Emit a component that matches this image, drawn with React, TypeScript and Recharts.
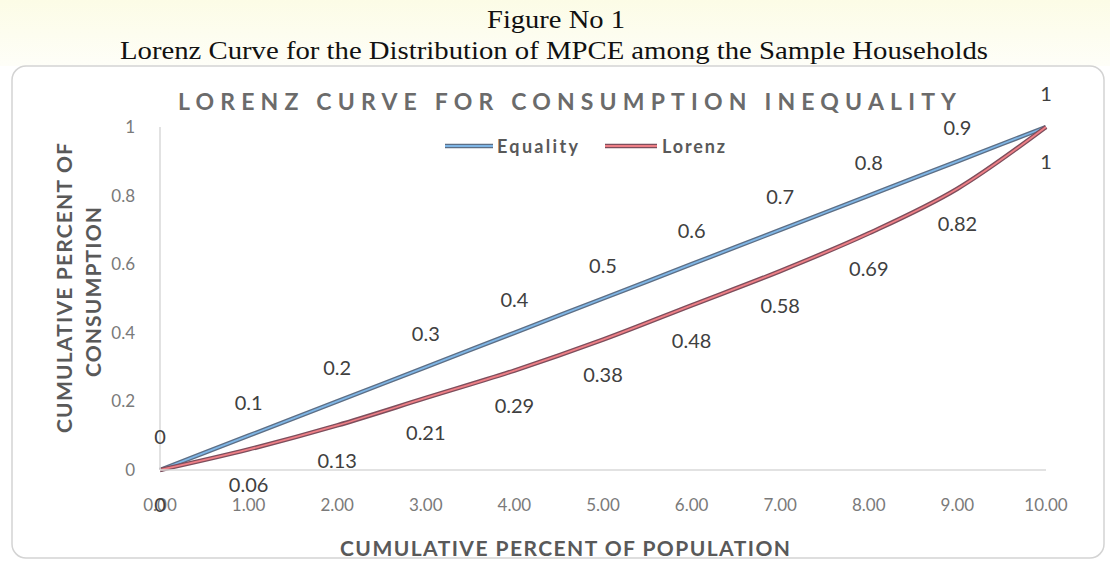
import React from "react";
import { LineChart, Line, XAxis, YAxis, LabelList } from "recharts";

const population = [0, 1, 2, 3, 4, 5, 6, 7, 8, 9, 10];
const equality = [0, 0.1, 0.2, 0.3, 0.4, 0.5, 0.6, 0.7, 0.8, 0.9, 1];
const lorenz = [0, 0.06, 0.13, 0.21, 0.29, 0.38, 0.48, 0.58, 0.69, 0.82, 1];
const xTicks = [0, 1, 2, 3, 4, 5, 6, 7, 8, 9, 10];
const yTicks = [0, 0.2, 0.4, 0.6, 0.8, 1];
const seriesNames = ["Equality", "Lorenz"];

const data = population.map((p, i) => ({ x: p, equality: equality[i], lorenz: lorenz[i] }));

const FONT = "Lato, 'Open Sans', sans-serif";
const SERIF = "'Liberation Serif', 'DejaVu Serif', serif";
const GREY = "#595959";

const EQ_OUT = "#5d6f86";
const EQ_IN = "#7fb6e6";
const LO_OUT = "#7e4e5c";
const LO_IN = "#ef7f86";

export default function App() {
  return (
    <div style={{ position: "absolute", left: 0, top: 0, width: 1110, height: 562, background: "#ffffff", overflow: "hidden" }}>
      <svg width={1110} height={562} style={{ position: "absolute", left: 0, top: 0 }}>
        <defs>
          <linearGradient id="cream" x1="0" y1="0" x2="0" y2="1">
            <stop offset="0" stopColor="#fcfce6" />
            <stop offset="1" stopColor="#fefef8" />
          </linearGradient>
        </defs>
        <rect x={0} y={0} width={1110} height={66} fill="url(#cream)" />
        <rect x={12} y={66} width={1092} height={492} rx={14} fill="#ffffff" stroke="#d3d3d3" strokeWidth={1.5} />
      </svg>
      <div style={{ position: "absolute", left: 0, top: 0 }}>
        <LineChart width={1110} height={562} data={data} margin={{ top: 127, right: 64, bottom: 42, left: 100 }}>
          <XAxis
            dataKey="x"
            type="number"
            domain={[0, 10]}
            ticks={xTicks}
            tickFormatter={(v: number) => v.toFixed(2)}
            tickLine={false}
            axisLine={{ stroke: "#d9d9d9", strokeWidth: 1.5 }}
            tick={{ fill: "#7a7a7a", fontSize: 17, fontFamily: FONT }}
            tickMargin={23}
            height={50}
            interval={0}
          />
          <YAxis
            type="number"
            domain={[0, 1]}
            ticks={yTicks}
            tickFormatter={(v: number) => String(v)}
            tickLine={false}
            axisLine={{ stroke: "#d9d9d9", strokeWidth: 1.5 }}
            tick={{ fill: "#7a7a7a", fontSize: 17, fontFamily: FONT }}
            tickMargin={19}
            width={60}
            interval={0}
          />
          <Line type="monotone" dataKey="equality" stroke={EQ_OUT} strokeWidth={4.5} dot={false} isAnimationActive={false} legendType="none" />
          <Line type="monotone" dataKey="equality" name={seriesNames[0]} stroke={EQ_IN} strokeWidth={1.8} dot={false} isAnimationActive={false}>
            <LabelList dataKey="equality" position="top" offset={26} fill="#404040" fontSize={20} fontFamily={FONT} formatter={(v: number) => String(v)} />
          </Line>
          <Line type="monotone" dataKey="lorenz" stroke={LO_OUT} strokeWidth={4.5} dot={false} isAnimationActive={false} legendType="none" />
          <Line type="monotone" dataKey="lorenz" name={seriesNames[1]} stroke={LO_IN} strokeWidth={1.8} dot={false} isAnimationActive={false}>
            <LabelList dataKey="lorenz" position="bottom" offset={28} fill="#404040" fontSize={20} fontFamily={FONT} formatter={(v: number) => String(v)} />
          </Line>
        </LineChart>
      </div>
      <svg width={1110} height={562} style={{ position: "absolute", left: 0, top: 0, pointerEvents: "none" }}>
        <text x={487} y={19} dominantBaseline="central" fontFamily={SERIF} fontSize={25} fill="#111" textLength={138} lengthAdjust="spacingAndGlyphs">Figure No 1</text>
        <text x={120} y={50} dominantBaseline="central" fontFamily={SERIF} fontSize={25} fill="#111" textLength={868} lengthAdjust="spacingAndGlyphs">Lorenz Curve for the Distribution of MPCE among the Sample Households</text>
        <text x={178} y={101} dominantBaseline="central" fontFamily={FONT} fontWeight={700} fontSize={23} fill="#6b6b6b" textLength={778} lengthAdjust="spacing">LORENZ CURVE FOR CONSUMPTION INEQUALITY</text>
        {/* legend */}
        <line x1={445} y1={146} x2={493} y2={146} stroke={EQ_OUT} strokeWidth={4.5} />
        <line x1={445} y1={146} x2={493} y2={146} stroke={EQ_IN} strokeWidth={1.8} />
        <text x={497} y={146} dominantBaseline="central" fontFamily={FONT} fontWeight={700} fontSize={18} fill={GREY} textLength={81} lengthAdjust="spacing">{seriesNames[0]}</text>
        <line x1={605} y1={146} x2={657} y2={146} stroke={LO_OUT} strokeWidth={4.5} />
        <line x1={605} y1={146} x2={657} y2={146} stroke={LO_IN} strokeWidth={1.8} />
        <text x={662} y={146} dominantBaseline="central" fontFamily={FONT} fontWeight={700} fontSize={18} fill={GREY} textLength={63} lengthAdjust="spacing">{seriesNames[1]}</text>
        {/* axis titles */}
        <text x={565} y={547} textAnchor="middle" dominantBaseline="central" fontFamily={FONT} fontWeight={700} fontSize={21} fill={GREY} textLength={450} lengthAdjust="spacing">CUMULATIVE PERCENT OF POPULATION</text>
        <text x={63} y={288} transform="rotate(-90 63 288)" textAnchor="middle" dominantBaseline="central" fontFamily={FONT} fontWeight={700} fontSize={21} fill={GREY} textLength={290} lengthAdjust="spacing">CUMULATIVE PERCENT OF</text>
        <text x={92} y={292} transform="rotate(-90 92 292)" textAnchor="middle" dominantBaseline="central" fontFamily={FONT} fontWeight={700} fontSize={21} fill={GREY} textLength={170} lengthAdjust="spacing">CONSUMPTION</text>
      </svg>
    </div>
  );
}
